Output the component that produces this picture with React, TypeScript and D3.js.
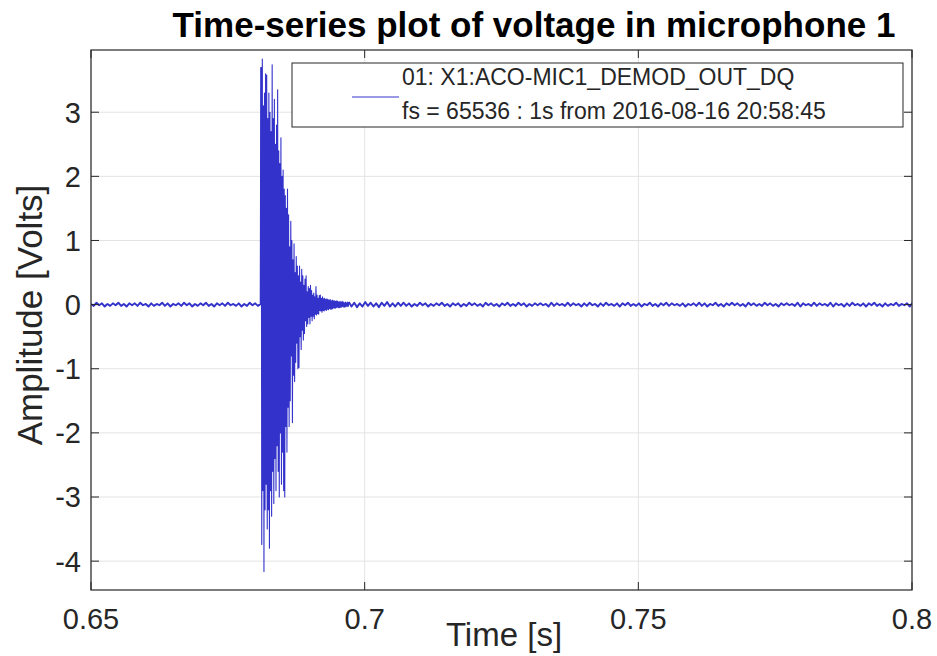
import * as d3 from "d3";

// samples (volts)
const quietStart = 0.65;
const quietStep = 0.0005;
const quietBefore = [
  0.01, -0.02, 0.03, -0.01, 0.02, -0.03, 0.01, -0.02, 0.02, -0.01,
  0.03, -0.02, 0.01, -0.03, 0.02, -0.01, 0.02, -0.02, 0.03, -0.01,
  0.01, -0.03, 0.02, -0.02, 0.01, -0.01, 0.03, -0.02, 0.02, -0.03,
  0.01, -0.01, 0.02, -0.02, 0.03, -0.01, 0.02, -0.03, 0.01, -0.02,
  0.02, -0.01, 0.03, -0.02, 0.01, -0.03, 0.02, -0.01, 0.02, -0.02,
  0.03, -0.01, 0.01, -0.02, 0.02, -0.03, 0.01, -0.02, 0.03, -0.01,
  0.02, -0.02, 0.01,
];

const burstStart = 0.6811;
const burstStep = 0.0001;
const burst = [
  3.7, -3.74, 3.83, -2.9, 3.1, -4.16, 3.3, -3.2, 3.6, -2.8,
  3.58, -3.5, 2.9, -3.2, 3.3, -3.8, 3.0, -2.9, 2.7, -3.3,
  3.74, -2.6, 2.9, -3.1, 3.2, -2.4, 2.5, -2.9, 2.8, -2.2,
  3.35, -2.6, 2.4, -3.0, 2.2, -2.0, 2.6, -2.8, 2.0, -2.3,
  2.1, -2.9, 1.8, -3.0, 1.7, -1.9, 1.5, -2.3, 1.8, -1.6,
  1.4, -1.9, 0.9, -1.5, 1.3, -0.8, 1.0, -1.84, 0.7, -1.1,
  0.95, -1.2, 0.5, -0.9, 0.75, -0.6, 0.6, -1.0, 0.45, -0.98,
  0.6, -0.5, 0.35, -0.7, 0.55, -0.4, 0.45, -0.55, 0.3, -0.45,
  0.4, -0.25, 0.45, -0.34, 0.2, -0.3, 0.28, -0.2, 0.25, -0.3,
  0.3, -0.18, 0.22, -0.25, 0.15, -0.18, 0.18, -0.22, 0.12, -0.15,
  0.28, -0.16, 0.15, -0.14, 0.1, -0.15, 0.14, -0.09, 0.15, -0.1,
  0.1, -0.12, 0.12, -0.09, 0.09, -0.1, 0.1, -0.08, 0.08, -0.09,
  0.09, -0.07, 0.08, -0.08, 0.07, -0.06, 0.08, -0.07, 0.06, -0.07,
  0.07, -0.06, 0.06, -0.05, 0.06, -0.06, 0.05, -0.05, 0.06, -0.04,
  0.05, -0.05, 0.04, -0.05, 0.05, -0.04, 0.04, -0.04, 0.05, -0.03,
  0.04, -0.04, 0.03, -0.04, 0.04, -0.03, 0.03, -0.03, 0.04, -0.03,
];

const afterStart = 0.6971;
const quietAfter = [
  0.04, -0.03, 0.03, -0.04, 0.02, -0.03, 0.04, -0.02, 0.03, -0.03,
  0.02, -0.04, 0.03, -0.02, 0.04, -0.03, 0.02, -0.03, 0.03, -0.02,
  0.03, -0.02, 0.02, -0.03, 0.01, -0.02, 0.03, -0.01, 0.02, -0.03,
  0.01, -0.02, 0.02, -0.01, 0.03, -0.02, 0.01, -0.03, 0.02, -0.01,
  0.02, -0.03, 0.01, -0.02, 0.03, -0.01, 0.02, -0.02, 0.01, -0.03,
  0.03, -0.01, 0.02, -0.02, 0.01, -0.03, 0.02, -0.01, 0.03, -0.02,
  0.01, -0.02, 0.03, -0.01, 0.02, -0.03, 0.01, -0.02, 0.02, -0.01,
  0.02, -0.01, 0.01, -0.03, 0.03, -0.02, 0.02, -0.01, 0.01, -0.02,
  0.03, -0.02, 0.02, -0.01, 0.01, -0.03, 0.02, -0.02, 0.03, -0.01,
  0.01, -0.03, 0.02, -0.02, 0.03, -0.01, 0.01, -0.02, 0.02, -0.03,
  0.02, -0.01, 0.03, -0.02, 0.01, -0.02, 0.02, -0.03, 0.01, -0.01,
  0.03, -0.02, 0.01, -0.03, 0.02, -0.01, 0.03, -0.02, 0.02, -0.01,
  0.01, -0.02, 0.02, -0.03, 0.01, -0.01, 0.02, -0.02, 0.03, -0.02,
  0.02, -0.03, 0.01, -0.01, 0.03, -0.02, 0.01, -0.03, 0.02, -0.01,
  0.03, -0.01, 0.02, -0.02, 0.01, -0.03, 0.03, -0.01, 0.02, -0.02,
  0.01, -0.02, 0.03, -0.01, 0.02, -0.02, 0.01, -0.03, 0.02, -0.01,
  0.02, -0.01, 0.01, -0.02, 0.03, -0.03, 0.02, -0.01, 0.01, -0.02,
  0.03, -0.02, 0.02, -0.01, 0.01, -0.02, 0.03, -0.03, 0.02, -0.01,
  0.01, -0.03, 0.02, -0.02, 0.03, -0.01, 0.01, -0.02, 0.02, -0.03,
  0.02, -0.01, 0.03, -0.02, 0.01, -0.03, 0.02, -0.02, 0.01, -0.01,
  0.03, -0.02, 0.01, -0.01, 0.02, -0.03, 0.03, -0.02, 0.01, -0.02,
];

const xTicks = [0.65, 0.7, 0.75, 0.8];
const xTickLabels = ["0.65", "0.7", "0.75", "0.8"];
const yTicks = [-4, -3, -2, -1, 0, 1, 2, 3];
const legendLines = [
  "01: X1:ACO-MIC1_DEMOD_OUT_DQ",
  "fs = 65536 : 1s from 2016-08-16 20:58:45",
];

const W = 937;
const H = 656;
const left = 91;
const right = 912;
const top = 50;
const bottom = 590;
const ink = "#262626";
const blue = "#3333cc";
const font = "'Liberation Sans', Arial, sans-serif";

type Pt = [number, number];

export default function App() {
  const x = d3.scaleLinear().domain([0.65, 0.8]).range([left, right]);
  const y = d3.scaleLinear().domain([-4.45, 3.97]).range([bottom, top]);

  const before: Pt[] = quietBefore.map((v, i) => [quietStart + i * quietStep, v]);
  const mid: Pt[] = burst.map((v, i) => [burstStart + i * burstStep, v]);
  const after: Pt[] = quietAfter.map((v, i) => [afterStart + i * quietStep, v]);

  const line = d3
    .line<Pt>()
    .x((d) => x(d[0]))
    .y((d) => y(d[1]));

  const tick = 8;

  return (
    <svg
      width={W}
      height={H}
      style={{ position: "absolute", left: 0, top: 0, background: "#fff" }}
      fontFamily={font}
    >
      <defs>
        <clipPath id="plot">
          <rect x={left} y={top} width={right - left} height={bottom - top} />
        </clipPath>
      </defs>

      {/* grid */}
      <g stroke="#e3e3e3" strokeWidth={1}>
        {xTicks.map((t) => (
          <line key={t} x1={x(t)} x2={x(t)} y1={top} y2={bottom} />
        ))}
        {yTicks.map((t) => (
          <line key={t} x1={left} x2={right} y1={y(t)} y2={y(t)} />
        ))}
      </g>

      {/* signal: dense sampling makes the quiet stretches read as a thick band */}
      <g fill="none" stroke={blue} clipPath="url(#plot)" strokeLinejoin="round">
        <path d={line([...before, mid[0]]) ?? ""} strokeWidth={1.9} />
        <path d={line([before[before.length - 1], ...mid, after[0]]) ?? ""} strokeWidth={1.1} />
        <path d={line(after) ?? ""} strokeWidth={1.9} />
      </g>

      {/* box + ticks */}
      <rect
        x={left}
        y={top}
        width={right - left}
        height={bottom - top}
        fill="none"
        stroke={ink}
        strokeWidth={1.2}
      />
      <g stroke={ink} strokeWidth={1}>
        {xTicks.map((t) => (
          <g key={t}>
            <line x1={x(t)} x2={x(t)} y1={bottom} y2={bottom - tick} />
            <line x1={x(t)} x2={x(t)} y1={top} y2={top + tick} />
          </g>
        ))}
        {yTicks.map((t) => (
          <g key={t}>
            <line x1={left} x2={left + tick} y1={y(t)} y2={y(t)} />
            <line x1={right} x2={right - tick} y1={y(t)} y2={y(t)} />
          </g>
        ))}
      </g>

      {/* tick labels */}
      <g fill={ink} fontSize={29}>
        {xTicks.map((t, i) => (
          <text key={t} x={x(t)} y={bottom + 39} textAnchor="middle">
            {xTickLabels[i]}
          </text>
        ))}
        {yTicks.map((t) => (
          <text key={t} x={left - 10} y={y(t)} dy="0.36em" textAnchor="end">
            {t}
          </text>
        ))}
      </g>

      {/* axis labels */}
      <text x={504} y={646} textAnchor="middle" fontSize={33} fill={ink}>
        Time [s]
      </text>
      <text
        transform="translate(42,315) rotate(-90)"
        textAnchor="middle"
        fontSize={35}
        fill={ink}
      >
        Amplitude [Volts]
      </text>

      {/* title */}
      <text x={534} y={37} textAnchor="middle" fontSize={35} fontWeight="bold" fill="#000">
        Time-series plot of voltage in microphone 1
      </text>

      {/* legend */}
      <rect x={292} y={63} width={611} height={64} fill="#fff" stroke={ink} strokeWidth={1} />
      <line x1={352} x2={399} y1={97} y2={97} stroke={blue} strokeWidth={1} />
      {legendLines.map((s, i) => (
        <text key={s} x={402} y={85 + i * 34} fontSize={23} fill={ink}>
          {s}
        </text>
      ))}
    </svg>
  );
}
